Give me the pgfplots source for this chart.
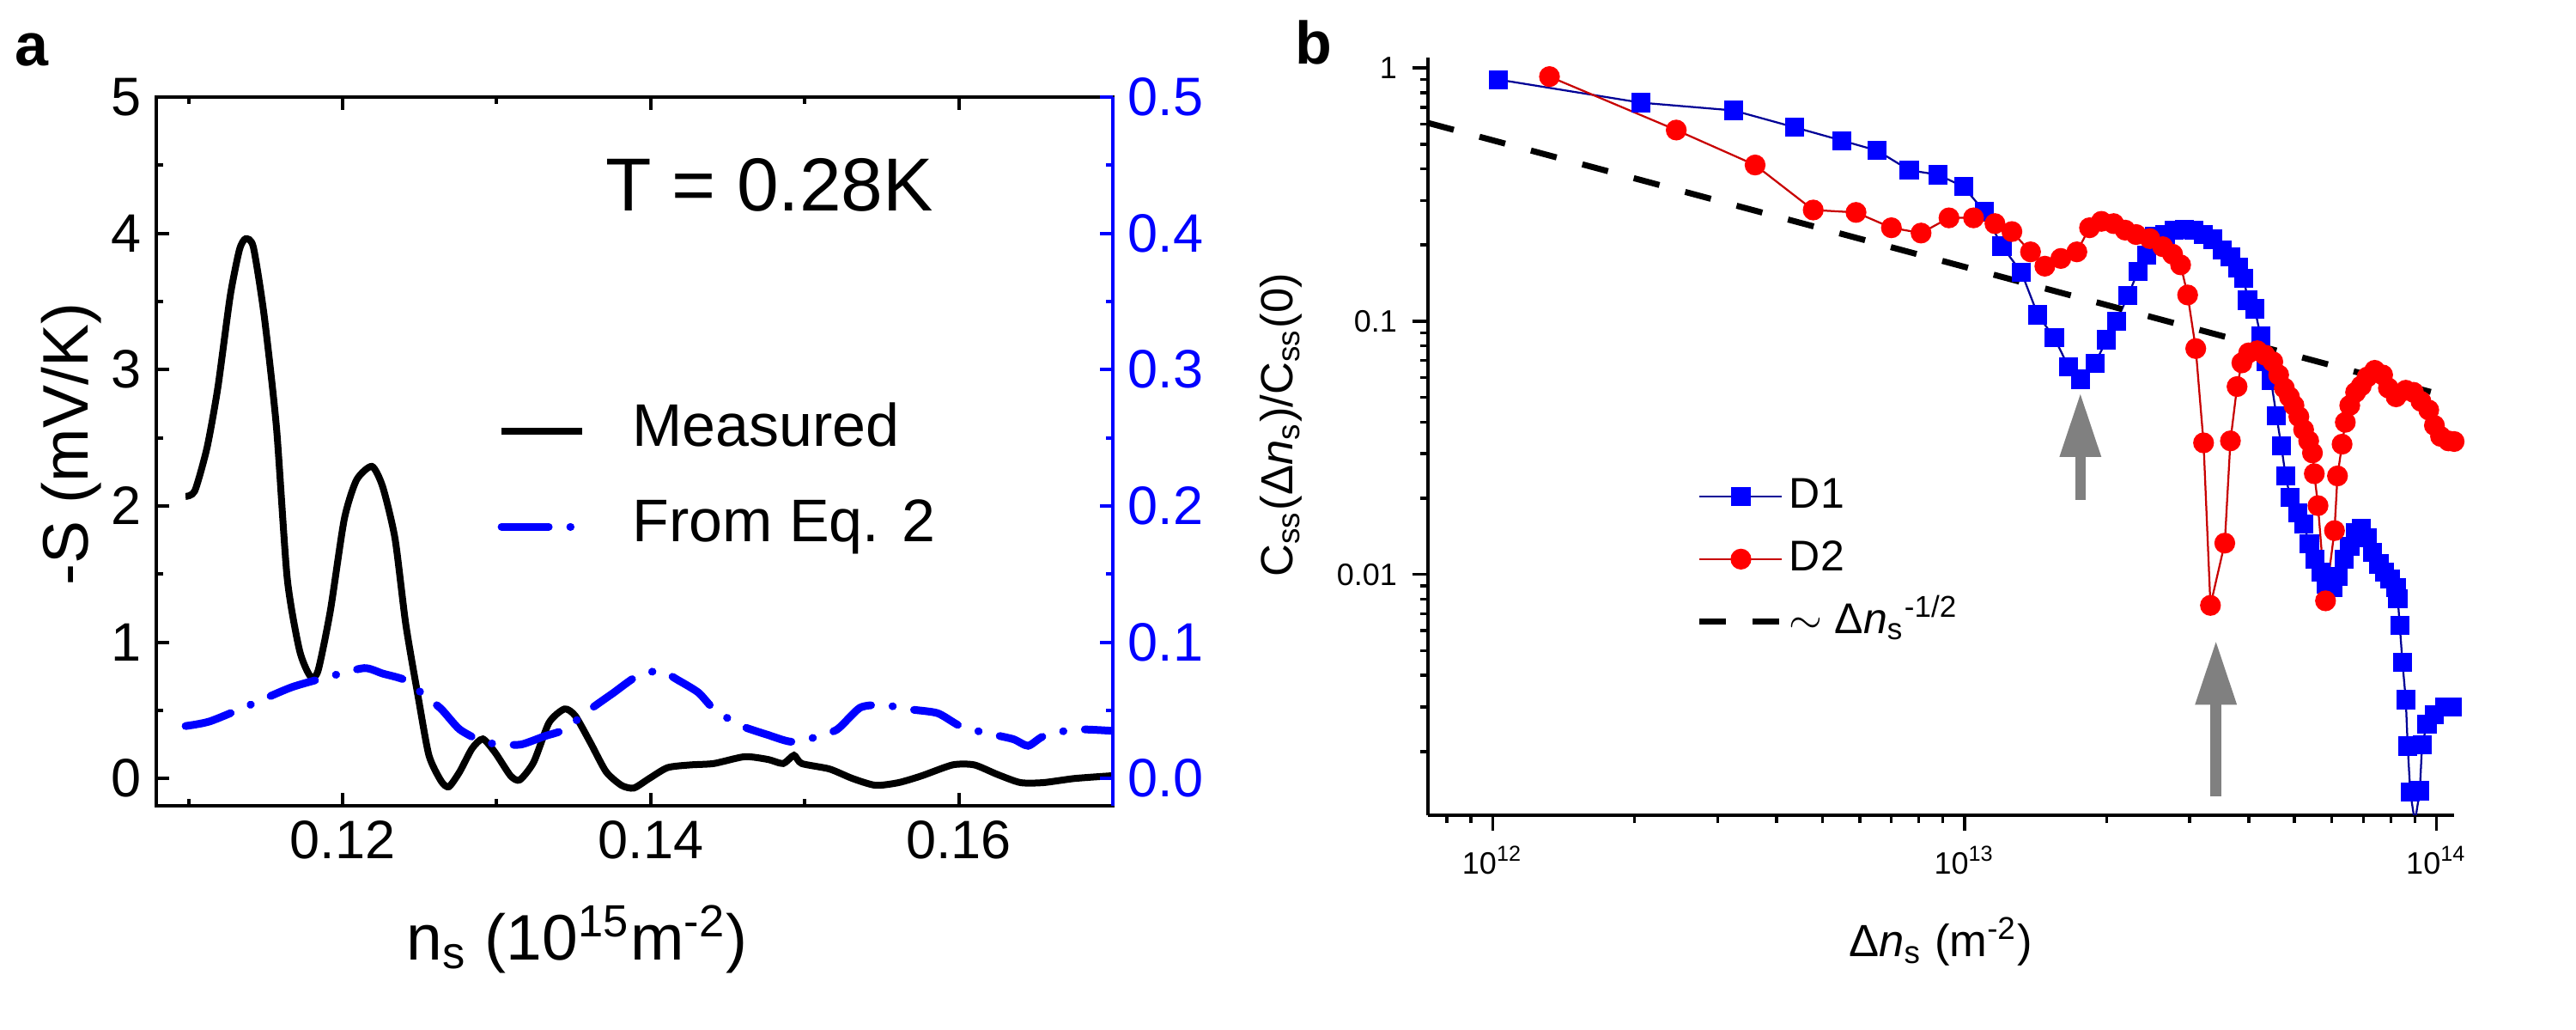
\documentclass[border=0pt]{standalone}
\usepackage{pgfplots}
\pgfplotsset{compat=1.18}
\usepackage{fontspec}
\setmainfont{Liberation Sans}
\usetikzlibrary{arrows.meta}
\definecolor{dblue}{RGB}{0,0,150}
\definecolor{dred}{RGB}{200,0,0}
\definecolor{agray}{RGB}{128,128,128}

\pgfplotstableread{
x y
0.1098 2.07
0.1104 2.11
0.1112 2.43
0.1119 2.87
0.1127 3.54
0.1133 3.88
0.1137 3.96
0.1142 3.90
0.1149 3.40
0.1157 2.58
0.1164 1.47
0.1172 0.94
0.1179 0.75
0.1184 0.79
0.1192 1.23
0.1201 1.90
0.1209 2.19
0.1219 2.29
0.1226 2.14
0.1234 1.76
0.1241 1.13
0.1249 0.60
0.1256 0.17
0.1264 -0.02
0.1269 -0.06
0.1276 0.05
0.1284 0.22
0.1291 0.29
0.1299 0.19
0.1309 0.02
0.1315 -0.01
0.1324 0.12
0.1334 0.41
0.1344 0.51
0.1351 0.46
0.1361 0.26
0.1371 0.05
0.1381 -0.05
0.1389 -0.07
0.1399 0.00
0.1411 0.08
0.1426 0.10
0.1441 0.11
0.1461 0.16
0.1476 0.14
0.1486 0.11
0.1493 0.17
0.1498 0.11
0.1516 0.07
0.1531 0.00
0.1546 -0.05
0.1561 -0.03
0.1576 0.02
0.1596 0.10
0.1610 0.10
0.1625 0.03
0.1640 -0.03
0.1655 -0.03
0.1675 0.00
0.1699 0.02
}\measured

\pgfplotstableread{
x y
0.1098 0.0385
0.1114 0.042
0.1142 0.055
0.1167 0.067
0.1192 0.075
0.1214 0.081
0.1226 0.077
0.1241 0.072
0.1254 0.060
0.1264 0.051
0.1276 0.036
0.1291 0.027
0.1304 0.025
0.1316 0.025
0.1331 0.031
0.1344 0.036
0.1361 0.051
0.1376 0.063
0.1391 0.075
0.1406 0.079
0.1418 0.072
0.1431 0.063
0.1441 0.051
0.1458 0.039
0.1476 0.032
0.1491 0.027
0.1506 0.030
0.1521 0.036
0.1536 0.052
0.1551 0.054
0.1566 0.051
0.1586 0.048
0.1600 0.039
0.1615 0.034
0.1635 0.029
0.1645 0.024
0.1655 0.031
0.1675 0.036
0.1699 0.035
}\eqtwo

\pgfplotstableread{
x y
1.03e12 0.90
2.06e12 0.73
3.24e12 0.68
4.37e12 0.583
5.50e12 0.517
6.53e12 0.472
7.64e12 0.395
8.79e12 0.379
9.95e12 0.340
1.10e13 0.272
1.20e13 0.198
1.32e13 0.156
1.43e13 0.106
1.55e13 0.086
1.66e13 0.0662
1.76e13 0.059
1.89e13 0.068
2.00e13 0.0845
2.10e13 0.100
2.22e13 0.126
2.33e13 0.157
2.43e13 0.182
2.53e13 0.216
2.66e13 0.220
2.78e13 0.229
2.92e13 0.231
3.06e13 0.229
3.21e13 0.220
3.36e13 0.211
3.52e13 0.191
3.66e13 0.180
3.80e13 0.163
3.91e13 0.148
3.98e13 0.121
4.12e13 0.112
4.24e13 0.0873
4.35e13 0.0692
4.46e13 0.0586
4.58e13 0.0424
4.69e13 0.0322
4.79e13 0.0245
4.90e13 0.0201
5.08e13 0.0175
5.23e13 0.0158
5.38e13 0.0132
5.53e13 0.0115
5.69e13 0.0102
5.85e13 0.0092
6.02e13 0.0089
6.19e13 0.0098
6.37e13 0.0115
6.55e13 0.0129
6.74e13 0.0146
6.93e13 0.0152
7.13e13 0.0140
7.33e13 0.0122
7.55e13 0.0110
7.76e13 0.0102
7.98e13 0.0096
8.21e13 0.0089
8.28e13 0.0080
8.36e13 0.0063
8.47e13 0.0045
8.61e13 0.0032
8.69e13 0.0021
8.80e13 0.00138
9.00e13 0.00105
9.22e13 0.00140
9.32e13 0.00212
9.55e13 0.00257
9.90e13 0.00279
1.04e14 0.0030
1.08e14 0.0030
}\done

\pgfplotstableread{
x y
1.32e12 0.925
2.45e12 0.569
3.60e12 0.414
4.78e12 0.275
5.89e12 0.269
7.00e12 0.234
8.09e12 0.223
9.27e12 0.256
1.045e13 0.256
1.16e13 0.243
1.26e13 0.226
1.38e13 0.188
1.48e13 0.165
1.60e13 0.177
1.73e13 0.188
1.84e13 0.234
1.95e13 0.248
2.07e13 0.243
2.19e13 0.229
2.31e13 0.220
2.47e13 0.212
2.63e13 0.197
2.76e13 0.184
2.87e13 0.167
2.97e13 0.127
3.09e13 0.078
3.21e13 0.0331
3.32e13 0.00755
3.56e13 0.0133
3.66e13 0.0337
3.78e13 0.0552
3.87e13 0.0685
4.00e13 0.075
4.17e13 0.0765
4.33e13 0.0735
4.50e13 0.0692
4.63e13 0.0614
4.76e13 0.0545
4.88e13 0.0503
4.99e13 0.0465
5.11e13 0.042
5.23e13 0.0373
5.36e13 0.0337
5.46e13 0.0302
5.51e13 0.025
5.61e13 0.0187
5.82e13 0.00787
6.08e13 0.0149
6.17e13 0.0245
6.31e13 0.0327
6.41e13 0.0399
6.55e13 0.0465
6.74e13 0.0524
6.93e13 0.0556
7.13e13 0.0602
7.40e13 0.064
7.69e13 0.0614
7.91e13 0.0545
8.21e13 0.0503
8.61e13 0.0534
8.94e13 0.0524
9.27e13 0.0483
9.63e13 0.0446
9.90e13 0.0388
1.02e14 0.0351
1.06e14 0.0337
1.09e14 0.0335
}\dtwo

\pgfplotsset{
  panela/.style={
    at={(36.4pt,52.2pt)}, anchor=south west, scale only axis,
    width=222.8pt, height=165pt, xmin=0.1079, xmax=0.17,
    tick align=inside, major tick length=3pt, minor tick length=1.6pt,
    /pgf/number format/assume math mode=true,
    tick label style={font=\fontsize{12.6}{13}\selectfont},
  },
}

\begin{document}
\begin{tikzpicture}
\path[use as bounding box] (0,0) rectangle (600pt,239.8pt);
\node[font=\bfseries\fontsize{14}{14}\selectfont] at (7.3pt,228.2pt) {a};
\node[font=\bfseries\fontsize{14}{14}\selectfont] at (306pt,229.8pt) {b};

% ---------------- panel a, left axis
\begin{axis}[panela,
  ymin=-0.2, ymax=5,
  xtick={0.12,0.14,0.16}, minor xtick={0.11,0.13,0.15,0.17},
  ytick={0,1,2,3,4,5}, minor ytick={0.5,1.5,2.5,3.5,4.5},
  xtick pos=both, ytick pos=left,
  axis line style={line width=0.8pt},
  every tick/.append style={line width=0.8pt, black},
  x tick label style={/pgf/number format/fixed, /pgf/number format/fixed zerofill, /pgf/number format/precision=2},
  xlabel={n\textsubscript{s} (10\textsuperscript{15}m\textsuperscript{-2})},
  ylabel={-S (mV/K)},
  label style={font=\fontsize{15}{15}\selectfont},
  xlabel style={at={(axis description cs:0.44,-0.217)}, anchor=base},
  ylabel style={at={(axis description cs:-0.0718,0.51)}, anchor=base},
  legend style={draw=none, fill=none, inner sep=0pt, at={(axis description cs:0.356,0.461)}, anchor=west,
    font=\fontsize{14}{14}\selectfont, row sep=9.2pt, column sep=10.8pt,
    nodes={inner sep=0pt, text height=10pt, text depth=3pt}},
  legend cell align=left,
  legend image code/.code={\draw[#1] (0pt,0pt) -- (18.8pt,0pt);},
]
\addplot[black, line width=1.6pt, smooth, tension=0.4] table {\measured};
\addlegendentry{Measured}
\addlegendimage{blue, line width=1.8pt, line cap=round, dash pattern=on 11pt off 5pt on 0.1pt off 5pt}
\addlegendentry{From Eq. 2}
\node[font=\fontsize{17.5}{17.5}\selectfont] at (axis description cs:0.641,0.876) {T = 0.28K};
\end{axis}

% ---------------- panel a, right axis
\begin{axis}[panela,
  ymin=-0.02, ymax=0.5,
  hide x axis, axis y line*=right,
  ytick={0,0.1,0.2,0.3,0.4,0.5}, minor ytick={0.05,0.15,0.25,0.35,0.45},
  y axis line style={blue, line width=0.8pt},
  ytick style={blue, line width=0.8pt},
  yticklabel style={blue, /pgf/number format/fixed, /pgf/number format/fixed zerofill, /pgf/number format/precision=1},
]
\addplot[blue, line width=1.8pt, line cap=round, dash pattern=on 11pt off 5pt on 0.1pt off 5pt, smooth, tension=0.4] table {\eqtwo};
\end{axis}

% ---------------- panel b
\begin{axis}[
  at={(332.6pt,50pt)}, anchor=south west, scale only axis,
  width=239pt, height=176.4pt,
  xmode=log, ymode=log,
  xmin=7.3e11, xmax=1.09e14, ymin=1.12e-3, ymax=1.1,
  axis x line*=bottom, axis y line*=left,
  tick align=outside, major tick length=3.7pt, minor tick length=1.9pt,
  axis line style={line width=0.7pt},
  every tick/.append style={line width=0.7pt, black},
  xtick={1e12,1e13,1e14},
  xticklabels={10\textsuperscript{12},10\textsuperscript{13},10\textsuperscript{14}},
  minor xtick={8e11,9e11,2e12,3e12,4e12,5e12,6e12,7e12,8e12,9e12,2e13,3e13,4e13,5e13,6e13,7e13,8e13,9e13},
  ytick={0.01,0.1,1}, yticklabels={0.01,0.1,1},
  minor ytick={0.002,0.003,0.004,0.005,0.006,0.007,0.008,0.009,0.02,0.03,0.04,0.05,0.06,0.07,0.08,0.09,0.2,0.3,0.4,0.5,0.6,0.7,0.8,0.9},
  tick label style={font=\fontsize{7.2}{8}\selectfont},
  xlabel={Δ\textit{n}\textsubscript{s} (m\textsuperscript{-2})},
  ylabel={C\textsubscript{ss}(Δ\textit{n}\textsubscript{s})/C\textsubscript{ss}(0)},
  label style={font=\fontsize{10.5}{11}\selectfont},
  xlabel style={at={(axis description cs:0.4996,-0.186)}, anchor=base},
  ylabel style={at={(axis description cs:-0.1322,0.515)}, anchor=base},
  legend style={draw=none, fill=none, inner sep=0pt, at={(axis description cs:0.261,0.338)}, anchor=west,
    font=\fontsize{10}{10}\selectfont, row sep=4.9pt, column sep=1pt,
    nodes={inner sep=0pt, text height=7.5pt, text depth=2.2pt}},
  legend cell align=left,
  legend image code/.code={\draw[mark repeat=2,mark phase=2,#1] plot coordinates {(0pt,0pt) (9.6pt,0pt) (19.2pt,0pt)};},
]
\addplot[dblue, line width=0.45pt, mark=square*, mark size=2pt, mark options={blue, fill=blue, draw=blue}] table {\done};
\addlegendentry{D1}
\addplot[dred, line width=0.45pt, mark=*, mark size=2.2pt, mark options={red, fill=red, draw=red}] table {\dtwo};
\addlegendentry{D2}
\addplot[black, line width=1.4pt, dash pattern=on 6.2pt off 6.2pt] coordinates {(7.3e11,0.607) (1.05e14,0.0506)};
\addlegendentry{$\sim$ Δ\textit{n}\textsubscript{s}\textsuperscript{-1/2}}
\addplot[agray, line width=2.5pt, -{Triangle[width=9pt,length=15pt]}, forget plot] coordinates {(1.76e13,0.0197) (1.76e13,0.0523)};
\addplot[agray, line width=2.5pt, -{Triangle[width=9pt,length=15pt]}, forget plot] coordinates {(3.41e13,0.00133) (3.41e13,0.0055)};
\end{axis}
\end{tikzpicture}
\end{document}
